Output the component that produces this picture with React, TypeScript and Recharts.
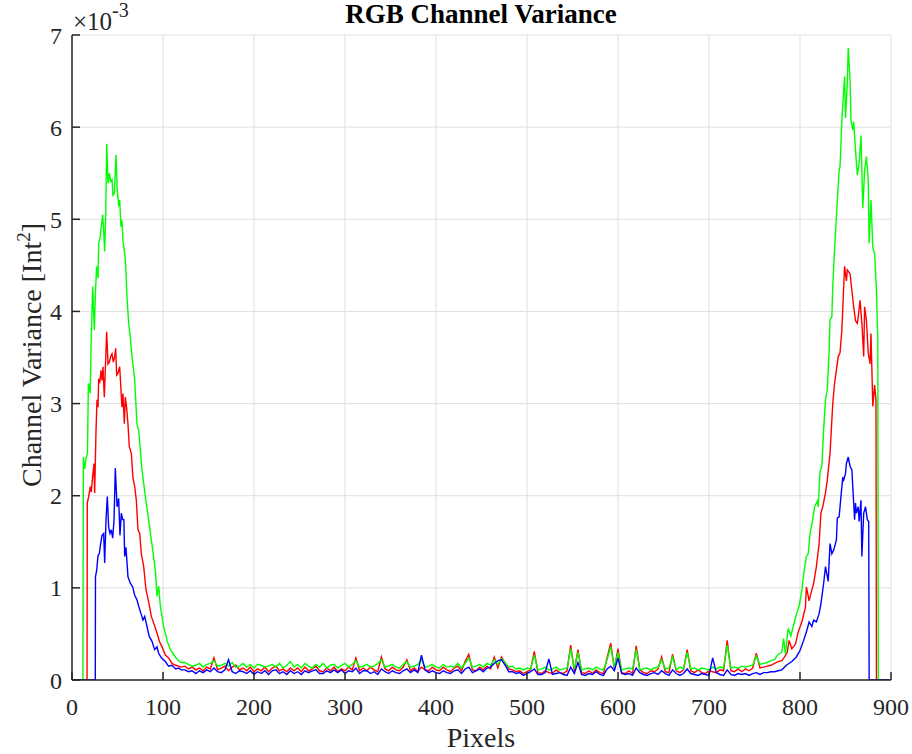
import React from "react";
import { LineChart, Line, XAxis, YAxis, CartesianGrid } from "recharts";

type Pt = [number, number];

// channel variance in units of 1e-3 Int^2, indexed by pixel column

// rising edge / left peak (pixel 0-120)
const redLeft: Pt[] = [
  [1, 0], [16.5, 0], [16.8, 1.92], [18.3, 1.99], [20.1, 2.1], [21.2, 2.04], [22.7, 2.21], [24.2, 2.35],
  [24.9, 2.03], [26.4, 2.71], [27.5, 3.04], [28.6, 2.96], [29.3, 3.27], [30.4, 3.22], [31.9, 3.36],
  [33, 3.25], [34.1, 3.4], [35.5, 3.07], [36.6, 3.36], [38.1, 3.78], [39.6, 3.43], [41, 3.45],
  [42.5, 3.51], [44, 3.54], [45.4, 3.45], [46.9, 3.51], [48, 3.6], [49.1, 3.31], [50.5, 3.33],
  [52.4, 3.4], [53.8, 3.15], [54.9, 2.96], [56, 3.11], [57.5, 2.78], [58.6, 3.07], [60, 2.96],
  [61.5, 2.78], [63, 2.53], [65.2, 2.46], [67, 2.19], [68.9, 2.1], [70.7, 1.95], [72.5, 1.63],
  [74.4, 1.59], [76.2, 1.37], [78.8, 1.23], [81.3, 0.98], [84.2, 0.85], [87.2, 0.69], [89.7, 0.62],
  [93.4, 0.51], [96, 0.42], [98.9, 0.36], [102.6, 0.27], [106.2, 0.24], [109.9, 0.18], [114, 0.16],
  [117.2, 0.15], [120, 0.14],
];

const greenLeft: Pt[] = [
  [1, 0], [12, 0], [12.5, 2.42], [14, 2.29], [15.5, 2.41], [17, 2.46], [18, 3.22], [20, 3.11],
  [21, 3.65], [22.7, 4.27], [24.5, 3.8], [25.6, 4.16], [27, 4.49], [28.6, 4.36], [29.3, 4.74],
  [31, 4.81], [32.2, 4.92], [33.7, 5.05], [34.8, 4.88], [35.9, 4.65], [37, 5.03], [38.1, 5.82],
  [39.6, 5.39], [41, 5.5], [42.5, 5.41], [44, 5.43], [45, 5.26], [46.5, 5.28], [48.4, 5.7],
  [49.5, 5.35], [51.3, 5.14], [52.4, 5.21], [53.8, 4.92], [54.9, 4.99], [56, 4.77], [57.9, 4.63],
  [59, 4.49], [60.4, 4.16], [62.3, 3.87], [64.1, 3.71], [65.9, 3.51], [67.8, 3.36], [68.9, 3.25],
  [71.4, 2.78], [73.3, 2.71], [76.9, 2.28], [80.6, 1.99], [84.2, 1.74], [87.9, 1.47], [91.6, 1.19],
  [93.4, 0.91], [95.2, 1.02], [97.1, 0.8], [100.7, 0.58], [104.4, 0.43], [108.1, 0.33],
  [113.6, 0.25], [116, 0.22], [120, 0.19],
];

const blueLeft: Pt[] = [
  [1, 0], [25.6, 0], [25.8, 1.12], [27.1, 1.19], [28.6, 1.35], [30, 1.37], [31.5, 1.48], [33, 1.57],
  [34.8, 1.59], [35.9, 1.27], [37.4, 1.74], [38.8, 1.99], [40.3, 1.66], [41.8, 1.59], [43.2, 1.63],
  [44.7, 1.54], [46.2, 1.74], [47.6, 2.3], [49.5, 1.88], [51.3, 1.97], [52.7, 1.57], [54.2, 1.81],
  [55.7, 1.74], [57, 1.74], [57.9, 1.34], [59.3, 1.44], [61.5, 1.12], [64.1, 1.05], [66.7, 1.01],
  [68.9, 0.92], [71.4, 0.87], [73.3, 0.8], [75.8, 0.72], [78, 0.65], [79.9, 0.69], [82.4, 0.58],
  [85, 0.47], [87.9, 0.42], [90.8, 0.33], [93.4, 0.36], [95.2, 0.29], [98.2, 0.24], [102.6, 0.2],
  [106, 0.15], [109.9, 0.16], [114, 0.12], [117.2, 0.13], [120, 0.11],
];

// flat middle section, one value every 4 pixels from pixel 124 to 776
const midStart = 124;
const midStep = 4;

const redMid = [
  0.15, 0.12, 0.14, 0.11, 0.13, 0.10, 0.14, 0.12, 0.24, 0.11,
  0.13, 0.15, 0.10, 0.14, 0.16, 0.11, 0.13, 0.10, 0.14, 0.09,
  0.12, 0.10, 0.14, 0.09, 0.13, 0.15, 0.10, 0.12, 0.09, 0.13,
  0.10, 0.13, 0.09, 0.14, 0.10, 0.12, 0.15, 0.10, 0.09, 0.13,
  0.10, 0.14, 0.09, 0.12, 0.10, 0.14, 0.11, 0.24, 0.10, 0.13,
  0.10, 0.14, 0.11, 0.09, 0.25, 0.12, 0.10, 0.14, 0.11, 0.10,
  0.14, 0.22, 0.10, 0.13, 0.09, 0.14, 0.11, 0.10, 0.14, 0.11,
  0.10, 0.14, 0.11, 0.09, 0.13, 0.15, 0.10, 0.20, 0.28, 0.11,
  0.10, 0.14, 0.11, 0.15, 0.12, 0.25, 0.13, 0.25, 0.18, 0.12,
  0.11, 0.09, 0.10, 0.07, 0.09, 0.11, 0.31, 0.08, 0.07, 0.10,
  0.08, 0.07, 0.11, 0.08, 0.07, 0.10, 0.38, 0.09, 0.33, 0.08,
  0.07, 0.10, 0.07, 0.11, 0.08, 0.07, 0.24, 0.40, 0.12, 0.34,
  0.08, 0.07, 0.10, 0.07, 0.37, 0.11, 0.08, 0.07, 0.10, 0.09,
  0.12, 0.25, 0.09, 0.08, 0.28, 0.10, 0.08, 0.11, 0.33, 0.10,
  0.08, 0.11, 0.08, 0.07, 0.10, 0.09, 0.08, 0.11, 0.10, 0.43,
  0.10, 0.09, 0.12, 0.09, 0.12, 0.10, 0.13, 0.29, 0.13, 0.14,
  0.15, 0.16, 0.18, 0.20,
];

const greenMid = [
  0.19, 0.17, 0.15, 0.16, 0.18, 0.14, 0.17, 0.18, 0.21, 0.15,
  0.16, 0.18, 0.15, 0.19, 0.14, 0.15, 0.18, 0.14, 0.17, 0.13,
  0.17, 0.16, 0.14, 0.15, 0.17, 0.14, 0.18, 0.13, 0.16, 0.20,
  0.14, 0.17, 0.13, 0.18, 0.15, 0.13, 0.17, 0.14, 0.18, 0.13,
  0.16, 0.17, 0.13, 0.16, 0.18, 0.14, 0.17, 0.21, 0.14, 0.15,
  0.17, 0.14, 0.15, 0.18, 0.22, 0.14, 0.15, 0.17, 0.14, 0.13,
  0.17, 0.20, 0.14, 0.15, 0.17, 0.22, 0.14, 0.15, 0.17, 0.14,
  0.13, 0.17, 0.14, 0.15, 0.14, 0.18, 0.13, 0.18, 0.24, 0.14,
  0.15, 0.17, 0.14, 0.18, 0.16, 0.22, 0.17, 0.23, 0.19, 0.14,
  0.15, 0.12, 0.13, 0.11, 0.13, 0.12, 0.27, 0.11, 0.12, 0.14,
  0.11, 0.12, 0.14, 0.11, 0.12, 0.13, 0.34, 0.12, 0.30, 0.11,
  0.12, 0.13, 0.11, 0.14, 0.12, 0.11, 0.22, 0.36, 0.14, 0.30,
  0.11, 0.12, 0.13, 0.12, 0.33, 0.11, 0.12, 0.13, 0.11, 0.13,
  0.14, 0.22, 0.12, 0.13, 0.25, 0.11, 0.14, 0.12, 0.30, 0.12,
  0.13, 0.11, 0.13, 0.12, 0.11, 0.14, 0.12, 0.14, 0.13, 0.38,
  0.13, 0.14, 0.13, 0.15, 0.14, 0.15, 0.16, 0.26, 0.17, 0.18,
  0.19, 0.21, 0.22, 0.28,
];

const blueMid = [
  0.11, 0.09, 0.10, 0.07, 0.10, 0.08, 0.11, 0.09, 0.13, 0.09,
  0.08, 0.11, 0.22, 0.09, 0.07, 0.10, 0.09, 0.07, 0.10, 0.06,
  0.09, 0.07, 0.10, 0.06, 0.10, 0.11, 0.07, 0.09, 0.06, 0.10,
  0.07, 0.09, 0.06, 0.10, 0.08, 0.10, 0.11, 0.07, 0.07, 0.10,
  0.08, 0.11, 0.08, 0.11, 0.07, 0.10, 0.09, 0.13, 0.07, 0.10,
  0.10, 0.07, 0.09, 0.06, 0.12, 0.09, 0.07, 0.10, 0.08, 0.07,
  0.10, 0.12, 0.08, 0.11, 0.08, 0.27, 0.11, 0.08, 0.10, 0.08,
  0.07, 0.10, 0.08, 0.07, 0.10, 0.11, 0.07, 0.12, 0.14, 0.08,
  0.10, 0.12, 0.09, 0.13, 0.14, 0.18, 0.21, 0.22, 0.16, 0.09,
  0.09, 0.07, 0.08, 0.05, 0.07, 0.09, 0.12, 0.06, 0.06, 0.08,
  0.23, 0.06, 0.07, 0.08, 0.06, 0.05, 0.14, 0.07, 0.19, 0.06,
  0.05, 0.07, 0.06, 0.09, 0.06, 0.05, 0.12, 0.15, 0.10, 0.24,
  0.07, 0.06, 0.07, 0.05, 0.13, 0.08, 0.06, 0.05, 0.07, 0.08,
  0.06, 0.10, 0.07, 0.05, 0.11, 0.07, 0.05, 0.07, 0.12, 0.07,
  0.06, 0.05, 0.07, 0.06, 0.05, 0.24, 0.08, 0.06, 0.05, 0.11,
  0.06, 0.05, 0.07, 0.06, 0.07, 0.05, 0.07, 0.08, 0.06, 0.08,
  0.08, 0.09, 0.09, 0.10,
];

// right peak and falling edge (pixel 780-898)
const redRight: Pt[] = [
  [780, 0.21], [783, 0.25], [786, 0.3], [788, 0.43], [791, 0.34], [795, 0.39], [798, 0.52],
  [802, 0.63], [806, 0.79], [807, 1.01], [810, 0.86], [812, 0.94], [815, 1.05], [818, 1.23],
  [821, 1.48], [823, 1.81], [825, 1.88], [828, 2.03], [830, 2.17], [833, 2.46], [836, 3.0],
  [838, 3.22], [842, 3.51], [844, 3.55], [846, 3.8], [849, 4.49], [851, 4.33], [852, 4.45],
  [855, 4.41], [857, 4.23], [859, 4.05], [861, 3.9], [863, 3.87], [864, 3.94], [866, 4.12],
  [868, 3.87], [870, 3.51], [871, 4.05], [873, 3.9], [875, 3.55], [877, 3.43], [878, 3.76],
  [880, 2.97], [882, 3.2], [883.5, 3.04], [884, 0], [898, 0],
];

const greenRight: Pt[] = [
  [780, 0.3], [782, 0.45], [784, 0.28], [787, 0.56], [790, 0.48], [793, 0.6], [796, 0.71],
  [799, 0.8], [802, 0.97], [804, 1.15], [807, 1.34], [809, 1.37], [811, 1.59], [814, 1.74],
  [816, 1.88], [819, 1.94], [820, 1.88], [822, 2.26], [824, 2.32], [826, 2.72], [828, 3.04],
  [830, 3.15], [832, 3.58], [833, 3.91], [835, 3.94], [836, 4.27], [838, 4.67], [840, 5.03],
  [843, 5.53], [844, 5.57], [846, 6.08], [849, 6.55], [850, 6.1], [852, 6.48], [853, 6.86],
  [855, 6.51], [856, 6.08], [858, 5.97], [859, 6.06], [861, 5.75], [863, 5.48], [865, 5.61],
  [867, 5.91], [869, 5.12], [871, 5.53], [873, 5.68], [875, 5.43], [876, 4.74], [878, 5.21],
  [880, 4.7], [882, 4.63], [884, 4.23], [885.5, 3.7], [886, 0], [898, 0],
];

const blueRight: Pt[] = [
  [780, 0.11], [785, 0.16], [791, 0.2], [796, 0.25], [800, 0.32], [804, 0.43], [807, 0.52],
  [810, 0.63], [813, 0.58], [815, 0.65], [818, 0.63], [821, 0.72], [823, 0.83], [826, 1.05],
  [828, 1.23], [831, 1.07], [833, 1.48], [835, 1.37], [837, 1.41], [840, 1.52], [841, 1.76],
  [843, 1.77], [845, 1.99], [847, 2.2], [848, 2.17], [850, 2.24], [851, 2.35], [853, 2.42],
  [855, 2.32], [857, 2.28], [858, 2.1], [860, 1.74], [861, 1.92], [862, 1.81], [864, 1.88],
  [865, 1.72], [867, 1.95], [868, 1.34], [870, 1.81], [872, 1.88], [874, 1.74], [875.5, 1.72],
  [876, 0], [898, 0],
];

const xTicks = [0, 100, 200, 300, 400, 500, 600, 700, 800, 900];
const yTicks = [0, 1, 2, 3, 4, 5, 6, 7];

const FONT = "'Liberation Serif', 'Times New Roman', serif";
const INK = "#262626";
const TICK_LEN = 8;

// chart box
const W = 912;
const H = 754;
const MARGIN = { top: 35, right: 21, bottom: 24, left: 12 };
const Y_AXIS_W = 60;
const X_AXIS_H = 50;
const PLOT_LEFT = MARGIN.left + Y_AXIS_W;
const PLOT_BOTTOM = H - MARGIN.bottom - X_AXIS_H;

function buildSeries(left: Pt[], mid: number[], right: Pt[]) {
  const midPts: Pt[] = mid.map((v, i) => [midStart + i * midStep, v]);
  return [...left, ...midPts, ...right].map(([px, v]) => ({ px, v }));
}

const redData = buildSeries(redLeft, redMid, redRight);
const greenData = buildSeries(greenLeft, greenMid, greenRight);
const blueData = buildSeries(blueLeft, blueMid, blueRight);

// matlab-style ticks: mark points into the plot, label sits outside
function BottomTick(props: any) {
  const { x, payload } = props;
  return (
    <g>
      <line x1={x} x2={x} y1={PLOT_BOTTOM} y2={PLOT_BOTTOM - TICK_LEN} stroke={INK} strokeWidth={1.5} />
      <text x={x} y={PLOT_BOTTOM + 18} dy="0.71em" textAnchor="middle" fill={INK} fontSize={24} fontFamily={FONT}>
        {payload.value}
      </text>
    </g>
  );
}

function LeftTick(props: any) {
  const { y, payload } = props;
  return (
    <g>
      <line x1={PLOT_LEFT} x2={PLOT_LEFT + TICK_LEN} y1={y} y2={y} stroke={INK} strokeWidth={1.5} />
      <text x={PLOT_LEFT - 10} y={y} dy="0.355em" textAnchor="end" fill={INK} fontSize={24} fontFamily={FONT}>
        {payload.value}
      </text>
    </g>
  );
}

export default function App() {
  return (
    <div style={{ position: "absolute", left: 0, top: 0, width: W, height: H, background: "#fff" }}>
      <LineChart width={W} height={H} margin={MARGIN}>
        <CartesianGrid stroke="#dfdfdf" strokeWidth={1} />
        <XAxis
          type="number"
          dataKey="px"
          domain={[0, 900]}
          ticks={xTicks}
          height={X_AXIS_H}
          tick={<BottomTick />}
          tickLine={false}
          axisLine={{ stroke: INK, strokeWidth: 1.5 }}
          allowDataOverflow
        />
        <YAxis
          type="number"
          domain={[0, 7]}
          ticks={yTicks}
          width={Y_AXIS_W}
          tick={<LeftTick />}
          tickLine={false}
          axisLine={{ stroke: INK, strokeWidth: 1.5 }}
          allowDataOverflow
        />
        <Line data={redData} dataKey="v" stroke="#ff0000" strokeWidth={1.4} dot={false} type="linear" isAnimationActive={false} />
        <Line data={greenData} dataKey="v" stroke="#00ff00" strokeWidth={1.4} dot={false} type="linear" isAnimationActive={false} />
        <Line data={blueData} dataKey="v" stroke="#0000ff" strokeWidth={1.4} dot={false} type="linear" isAnimationActive={false} />
      </LineChart>
      <svg
        width={W}
        height={H}
        style={{ position: "absolute", left: 0, top: 0, pointerEvents: "none" }}
        fontFamily={FONT}
        fill={INK}
      >
        <text x={481} y={23} textAnchor="middle" fontSize={27} fontWeight="bold" fill="#000">
          RGB Channel Variance
        </text>
        <text x={73} y={30} fontSize={25}>
          ×10
          <tspan dy={-13} fontSize={20}>-3</tspan>
        </text>
        <text x={481} y={747} textAnchor="middle" fontSize={28}>
          Pixels
        </text>
        <text transform="translate(41 355) rotate(-90)" textAnchor="middle" fontSize={28}>
          Channel Variance [Int
          <tspan dy={-11} fontSize={19}>2</tspan>
          <tspan dy={11}>]</tspan>
        </text>
      </svg>
    </div>
  );
}
